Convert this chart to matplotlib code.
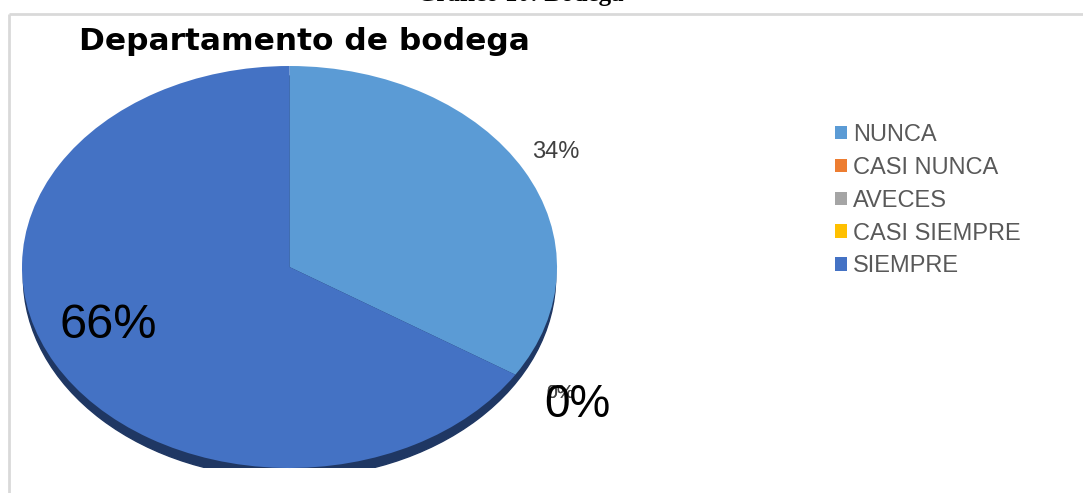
import matplotlib.pyplot as plt
from matplotlib.patches import Ellipse

# respuestas del departamento de bodega (porcentaje)
categorias = ['NUNCA', 'CASI NUNCA', 'AVECES', 'CASI SIEMPRE', 'SIEMPRE']
valores = [34, 0, 0, 0, 66]
colores = ['#5B9BD5', '#ED7D31', '#A5A5A5', '#FFC000', '#4472C4']

W, H = 1083, 493
fig = plt.figure(figsize=(W / 100, H / 100), dpi=100)

# capa de fondo en pixeles para marco y titulos
bg = fig.add_axes([0, 0, 1, 1])
bg.set_xlim(0, W)
bg.set_ylim(H, 0)
bg.axis('off')
bg.plot([8.5, W], [13.5, 13.5], color='#d9d9d9', lw=2, solid_capstyle='butt')
bg.plot([8.5, 8.5], [13.5, H], color='#d9d9d9', lw=2, solid_capstyle='butt')
bg.text(520, 1, 'Gráfico 10: Bodega', fontsize=18, fontweight='bold',
        family='Liberation Serif', ha='center', va='baseline')
bg.text(304, 42, 'Departamento de bodega', fontsize=22.5, fontweight='bold',
        family='DejaVu Sans', ha='center', va='center')

# pastel "inclinado": ejes sin aspecto igual para que quede eliptico
x0, x1 = 22, 557
y0, y1 = 66, 468
ax = fig.add_axes([x0 / W, 1 - y1 / H, (x1 - x0) / W, (y1 - y0) / H])
ax.add_patch(Ellipse((0, -0.05), 1.99, 2, color='#1F3763', zorder=0))
wedges, _ = ax.pie(valores, colors=colores, startangle=90, counterclock=False,
                   radius=1, wedgeprops=dict(linewidth=0))
for w in wedges:
    w.set_zorder(1)
ax.set_aspect('auto')
ax.set_xlim(-1, 1)
ax.set_ylim(-1, 1)
ax.axis('off')

# etiquetas de datos encima del pastel
top = fig.add_axes([0, 0, 1, 1])
top.set_xlim(0, W)
top.set_ylim(H, 0)
top.axis('off')
top.patch.set_alpha(0)

etq = [f'{v}%' for v in valores]
top.text(556, 152, etq[0], fontsize=17, color='#404040', family='Liberation Sans',
         ha='center', va='center')
for e in etq[1:4]:
    top.text(560, 393, e, fontsize=14, color='#404040', family='Liberation Sans',
             ha='center', va='center', alpha=0.7)
top.text(577, 405, etq[3], fontsize=33, color='black', family='Liberation Sans',
         ha='center', va='center')
top.text(108, 326, etq[4], fontsize=35, color='black', family='Liberation Sans',
         ha='center', va='center')

fig.legend(wedges, categorias, loc='upper left',
           bbox_to_anchor=(835 / W, 1 - 124 / H), frameon=False,
           prop=dict(family='Liberation Sans', size=17), labelcolor='#595959',
           handlelength=0.5, handleheight=0.5, handletextpad=0.25,
           labelspacing=0.46, borderpad=0, borderaxespad=0)

fig.savefig('out.png', dpi=100)
